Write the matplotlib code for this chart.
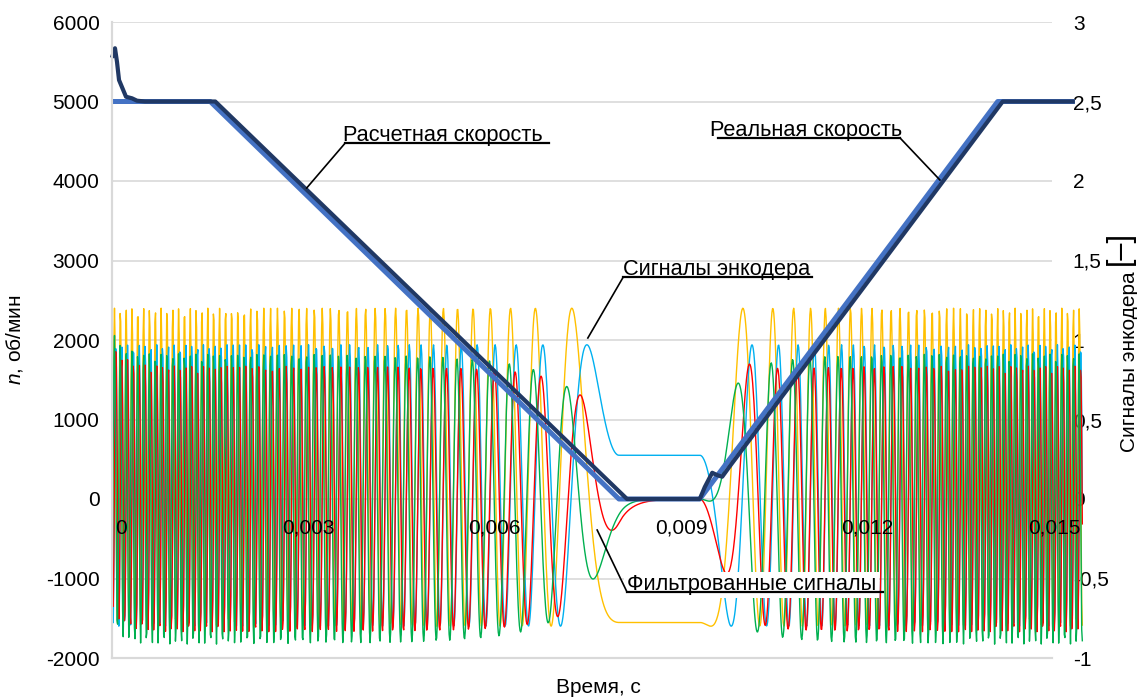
import numpy as np
import matplotlib
matplotlib.use("Agg")
import matplotlib.pyplot as plt

plt.rcParams['font.family'] = ['Liberation Sans', 'DejaVu Sans']
plt.rcParams['mathtext.fontset'] = 'custom'
plt.rcParams['mathtext.it'] = 'Liberation Sans:italic'
plt.rcParams['mathtext.rm'] = 'Liberation Sans'
plt.rcParams['axes.unicode_minus'] = False

# calculated speed, rpm
calc_t = [0.0, 0.00158, 0.00815, 0.00945, 0.01424, 0.01548]
calc_n = [5000, 5000, 0, 0, 5000, 5000]

# real (measured) speed, rpm
real_t = [0.0, 0.000048, 0.00008, 0.000113, 0.000177, 0.000225, 0.000322, 0.000402, 0.00053,
          0.00166, 0.00828, 0.00945, 0.00953, 0.00965, 0.00973, 0.00981, 0.00994, 0.01432, 0.01548]
real_n = [5550, 5670, 5500, 5270, 5150, 5060, 5040, 5010, 5000,
          5000, 0, 0, 150, 330, 300, 280, 420, 5000, 5000]

# encoder parameters
lines_per_rev = 128
sample_dt = 1e-5
t_end = 0.01561
stop_phase = 2.925        # shaft angle (rad) while the motor stands
yellow_mid, yellow_amp = 0.2, 1.0
cyan_mid, cyan_amp = 0.085, 0.885
green_tau, red_tau = 0.00014, 0.0002
green_gain, red_gain = 0.95, 0.97

x_ticks = [0, 0.003, 0.006, 0.009, 0.012, 0.015]
x_tick_labels = ['0', '0,003', '0,006', '0,009', '0,012', '0,015']
left_ticks = list(range(-2000, 6001, 1000))
right_ticks = [-1, -0.5, 0, 0.5, 1, 1.5, 2, 2.5, 3]
right_tick_labels = ['-1', '-0,5', '0', '0,5', '1', '1,5', '2', '2,5', '3']


def highpass(x, tau, dt):
    a = tau / (tau + dt)
    y = np.zeros_like(x)
    px, py = 0.0, 0.0
    for i, v in enumerate(x):
        py = a * (py + v - px)
        px = v
        y[i] = py
    return y


# encoder signals follow the shaft angle (shaft follows the calculated speed)
t = np.arange(0, t_end, sample_dt)
n_t = np.interp(t, calc_t, calc_n)
turns = np.concatenate([[0], np.cumsum((n_t[1:] + n_t[:-1]) / 2 * sample_dt / 60)])
psi = 2 * np.pi * lines_per_rev * turns
psi += stop_phase - psi[np.searchsorted(t, 0.009)]
yellow = yellow_mid + yellow_amp * np.cos(psi)
cyan = cyan_mid + cyan_amp * np.sin(psi)
green = green_gain * highpass(yellow, green_tau, sample_dt)
red = red_gain * highpass(cyan, red_tau, sample_dt)

W, H = 1137, 697
fig = plt.figure(figsize=(W / 100, H / 100), dpi=100)
ax = fig.add_axes([112 / W, 1 - 658 / H, 940 / W, 636 / H])
ax2 = ax.twinx()
ax.set_zorder(ax2.get_zorder() + 1)
ax.patch.set_visible(False)

xmax = 0.015 * 940 / 933
ax.set_xlim(0, xmax)
ax.set_ylim(-2000, 6000)
ax2.set_ylim(-1, 3)

# signals (right axis)
for y, c in [(yellow, '#FFC000'), (cyan, '#00B0F0'), (red, '#FF0000'), (green, '#00B050')]:
    ax2.plot(t, y, color=c, lw=1.0, clip_on=False)

# speeds (left axis)
ax.plot(calc_t, calc_n, color='#4472C4', lw=3.6, clip_on=False,
        solid_capstyle='butt', solid_joinstyle='round')
ax.plot(real_t, real_n, color='#203864', lw=3.0, clip_on=False,
        solid_capstyle='butt', solid_joinstyle='round')

# grid on the lower axes
ax2.set_xticks(x_ticks)
ax2.set_yticks(right_ticks)
ax2.set_yticklabels(right_tick_labels)
ax2.grid(True, color='#D9D9D9', lw=1.2)
ax.grid(False)
ax.set_xticks(x_ticks)
ax.set_xticklabels([])
ax.set_yticks(left_ticks)

for a in (ax, ax2):
    for s in ['top', 'right']:
        a.spines[s].set_visible(False)
    a.spines['left'].set_color('#D9D9D9')
    a.spines['bottom'].set_color('#D9D9D9')
    a.spines['left'].set_linewidth(1.5)
    a.spines['bottom'].set_linewidth(1.5)
    a.tick_params(length=0, labelsize=15)
ax.tick_params(axis='y', pad=9)
ax2.tick_params(axis='y', pad=15)
ax2.tick_params(axis='x', labelbottom=False)

for xv, lab in zip(x_ticks, x_tick_labels):
    ax.text(xv + 0.00015, -365, lab, ha='center', va='center', fontsize=15, zorder=5)

ax.set_ylabel('$n$, об/мин', fontsize=15)
ax.yaxis.set_label_coords(-87 / 940, 0.5)
ax.set_xlabel('Время, с', fontsize=15)
ax.xaxis.set_label_coords((598 - 112) / 940, -(678 - 658) / 636)
ax2.set_ylabel('Сигналы энкодера', fontsize=15)
ax2.yaxis.set_label_coords((1120 - 112) / 940, (658 - 362) / 636)
fig.text(1120 / W, 1 - 248 / H, '[–]', rotation=90, ha='center', va='center', fontsize=22)

# callouts
def callout(text, tx, ty, ux0, ux1, lx, lex, ley, box=False):
    ax.plot([ux0, ux1], [ty, ty], color='black', lw=1.6, clip_on=False, zorder=10)
    ax.plot([lx, lex], [ty, ley], color='black', lw=1.2, clip_on=False, zorder=10)
    kw = {}
    if box:
        kw['bbox'] = dict(facecolor='white', edgecolor='none', pad=2)
    ax.text(tx, ty + 20, text, ha='left', va='baseline', fontsize=15.7, zorder=9, **kw)

callout('Расчетная скорость', 0.00372, 4478, 0.00375, 0.00702, 0.00375, 0.00313, 3912)
callout('Реальная скорость', 0.00961, 4541, 0.00974, 0.01267, 0.01267, 0.01331, 4013)
callout('Сигналы энкодера', 0.00822, 2792, 0.00822, 0.01125, 0.00822, 0.00765, 2025)
callout('Фильтрованные сигналы', 0.00828, -1170, 0.00828, 0.0124, 0.00828, 0.0078, -390, box=True)

fig.savefig('out.png', dpi=100)
